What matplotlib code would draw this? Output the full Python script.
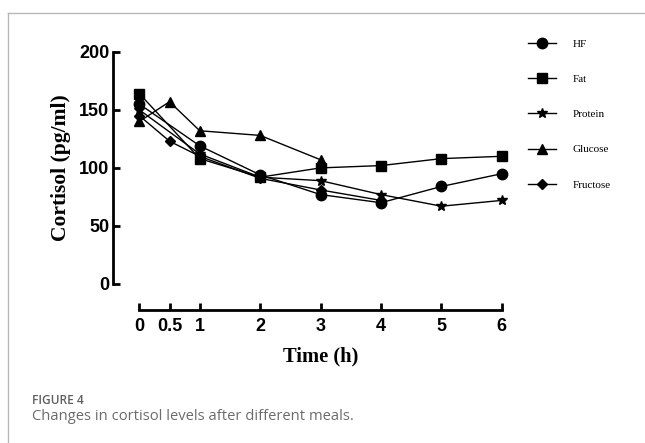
import matplotlib.pyplot as plt
from matplotlib.lines import Line2D

# cortisol (pg/ml) per meal
hf_t = [0, 1, 2, 3, 4, 5, 6]
hf_v = [155, 119, 94, 77, 70, 84, 95]
fat_t = [0, 1, 2, 3, 4, 5, 6]
fat_v = [164, 108, 92, 100, 102, 108, 110]
protein_t = [0, 1, 2, 3, 4, 5, 6]
protein_v = [150, 112, 92, 89, 77, 67, 72]
glucose_t = [0, 0.5, 1, 2, 3]
glucose_v = [140, 157, 132, 128, 107]
fructose_t = [0, 0.5, 1, 2, 3, 4]
fructose_v = [145, 123, 110, 91, 81, 72]

xticks = [0, 0.5, 1, 2, 3, 4, 5, 6]
xtick_labels = ['0', '0.5', '1', '2', '3', '4', '5', '6']
yticks = [0, 50, 100, 150, 200]

series = [
    ('HF', hf_t, hf_v, 'o', 7.5),
    ('Fat', fat_t, fat_v, 's', 7.5),
    ('Protein', protein_t, protein_v, '*', 7.5),
    ('Glucose', glucose_t, glucose_v, '^', 7.5),
    ('Fructose', fructose_t, fructose_v, 'D', 5.5),
]

fig = plt.figure(figsize=(6.45, 4.43), dpi=100)
ax = fig.add_axes([0.216, 0.359, 0.562, 0.524])

for name, t, v, m, ms in series:
    ax.plot(t, v, color='black', lw=1.0, marker=m, markersize=ms,
            label=name, clip_on=False, zorder=3)

ax.set_xlim(0, 6)
ax.set_ylim(0, 200)
ax.set_xticks(xticks)
ax.set_xticklabels(xtick_labels)
ax.set_yticks(yticks)

for s in ['top', 'right']:
    ax.spines[s].set_visible(False)
for s in ['left', 'bottom']:
    ax.spines[s].set_linewidth(2.0)
    ax.spines[s].set_position(('outward', 18.7))

ax.tick_params(direction='in', length=5, width=2.0, pad=6)
for lab in ax.get_xticklabels() + ax.get_yticklabels():
    lab.set_fontfamily('Liberation Sans')
    lab.set_fontweight('bold')
    lab.set_fontsize(13)
ax.tick_params(axis='y', pad=3)

ax.set_ylabel('Cortisol (pg/ml)', fontfamily='Liberation Serif',
              fontweight='bold', fontsize=15.5, labelpad=6)
ax.set_xlabel('Time (h)', fontfamily='Liberation Serif',
              fontweight='bold', fontsize=14.8, labelpad=8)

ax.legend(loc='upper left', bbox_to_anchor=(1.045, 1.097), frameon=False,
          prop={'family': 'Liberation Serif', 'size': 8},
          labelspacing=2.28, handlelength=2.5, handletextpad=1.5)

# page frame and caption
fig.add_artist(Line2D([0.013, 1.0], [0.971, 0.971], color='#b8b8b8', lw=1.0))
fig.add_artist(Line2D([0.013, 0.013], [0.0, 0.971], color='#b8b8b8', lw=1.0))
fig.text(0.050, 0.096, 'FIGURE 4', fontfamily='Open Sans', fontsize=8.6,
         fontweight='semibold', color='#5f5f5f', va='center', ha='left')
fig.text(0.049, 0.059, 'Changes in cortisol levels after different meals.',
         fontfamily='Open Sans', fontsize=10.6, color='#6b6b6b',
         va='center', ha='left')

fig.savefig('out.png', dpi=100)
